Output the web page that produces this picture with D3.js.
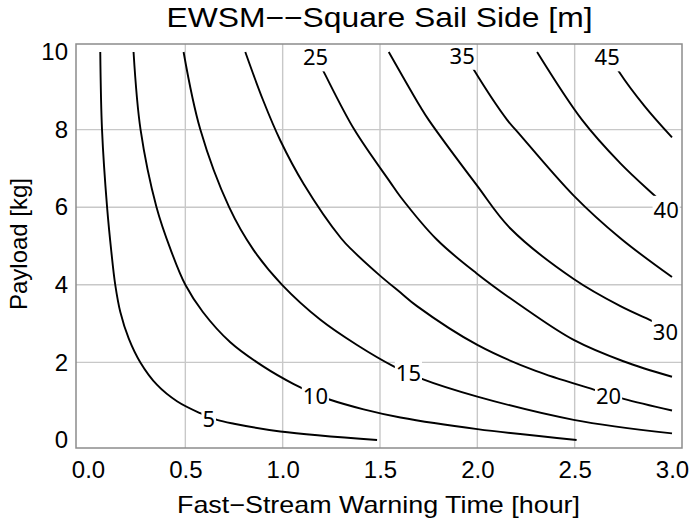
<!DOCTYPE html>
<html>
<head>
<meta charset="utf-8">
<script src="https://cdn.jsdelivr.net/npm/d3@7"></script>
<style>
  body { margin: 0; background: #fff; }
  svg { display: block; }
  .tick text { font-family: "Liberation Sans", Arial, sans-serif; font-size: 24px; fill: #000; }
</style>
</head>
<body>
<svg width="690" height="521"></svg>
<script>
// sail side levels [m]
const levels = [5, 10, 15, 20, 25, 30, 35, 40, 45];

// points: [warning time h, payload kg]
const side5  = [[0.063,10],[0.072,8.0],[0.098,6.0],[0.12,4.85],[0.14,4.0],[0.166,3.3],[0.209,2.62],[0.269,2.0],[0.355,1.42],[0.457,1.0],[0.577,0.69],[0.663,0.52],[0.75,0.42],[0.988,0.22],[1.485,0.0]];
const side10 = [[0.234,10],[0.27,8.0],[0.352,6.0],[0.425,4.9],[0.50,4.0],[0.59,3.3],[0.731,2.52],[0.902,1.89],[1.057,1.44],[1.168,1.18],[1.236,1.05],[1.416,0.79],[1.605,0.58],[2.0,0.28],[2.51,0.0]];
const side15 = [[0.491,10],[0.577,8.0],[0.725,6.0],[0.85,4.9],[0.997,4.0],[1.194,3.1],[1.382,2.45],[1.57,1.9],[1.708,1.59],[2.0,1.12],[2.495,0.52],[3.0,0.17]];
const side20 = [[0.808,10],[0.90,8.75],[0.988,7.72],[1.108,6.6],[1.3,5.2],[1.36,4.88],[1.497,4.25],[1.605,3.8],[1.69,3.45],[2.0,2.45],[2.3,1.78],[2.598,1.3],[2.752,1.06],[3.0,0.76]];
const side25 = [[1.16,10],[1.208,9.52],[1.368,8.0],[1.553,6.64],[1.605,6.27],[1.793,5.16],[1.995,4.30],[2.256,3.35],[2.495,2.58],[2.75,2.03],[3.0,1.63]];
const side30 = [[1.545,10],[1.708,8.58],[1.75,8.25],[1.995,6.58],[2.17,5.45],[2.495,4.15],[2.735,3.45],[2.906,3.05],[3.0,2.82]];
const side35 = [[1.93,10],[1.982,9.54],[2.153,8.25],[2.205,7.95],[2.495,6.3],[2.735,5.2],[3.0,4.2]];
const side40 = [[2.307,10],[2.538,8.25],[2.735,7.13],[2.906,6.32],[3.0,5.9]];
const side45 = [[2.67,10],[2.727,9.5],[2.86,8.6],[3.0,7.8]];
const contours = [side5, side10, side15, side20, side25, side30, side35, side40, side45];

// where each level's label sits: [time, payload]
const labelAt = [[0.62,0.55],[1.168,1.14],[1.646,1.72],[2.674,1.14],[1.169,9.86],[2.966,2.79],[1.922,9.9],[2.97,5.93],[2.667,9.86]];

const xTicks = [0, 0.5, 1, 1.5, 2, 2.5, 3];
const yTicks = [0, 2, 4, 6, 8, 10];
const xGrid = [0.5, 1, 1.5, 2, 2.5];
const yGrid = [2, 4, 6, 8];

const svg = d3.select('svg');

// plot frame sits a little outside the data range
const frame = { left: 76, right: 682, top: 44, bottom: 448 };
const x = d3.scaleLinear().domain([0, 3]).range([88, 672]);
const y = d3.scaleLinear().domain([0, 10]).range([440, 52]);

// grid
svg.append('g').selectAll('line')
    .data(xGrid)
    .join('line')
    .attr('x1', d => x(d)).attr('x2', d => x(d))
    .attr('y1', frame.top).attr('y2', frame.bottom)
    .attr('stroke', '#c8c8c8').attr('stroke-width', 1.4);

svg.append('g').selectAll('line')
    .data(yGrid)
    .join('line')
    .attr('y1', d => y(d)).attr('y2', d => y(d))
    .attr('x1', frame.left).attr('x2', frame.right)
    .attr('stroke', '#c8c8c8').attr('stroke-width', 1.4);

// contour lines
const line = d3.line()
    .x(d => x(d[0]))
    .y(d => y(d[1]))
    .curve(d3.curveCatmullRom.alpha(0.5));

svg.append('g').selectAll('path')
    .data(contours)
    .join('path')
    .attr('d', line)
    .attr('fill', 'none')
    .attr('stroke', '#000')
    .attr('stroke-width', 1.9)
    .attr('stroke-linejoin', 'round');

// contour labels, with a white box that breaks the line
const lab = svg.append('g').selectAll('g')
    .data(levels)
    .join('g')
    .attr('transform', (d, i) => `translate(${x(labelAt[i][0])},${y(labelAt[i][1])})`);

lab.append('text')
    .attr('text-anchor', 'middle')
    .attr('dy', '0.36em')
    .style('font-family', '"Noto Sans", "Open Sans", sans-serif')
    .style('font-size', '22px')
    .text(d => d);

lab.each(function () {
    const g = d3.select(this);
    const b = g.select('text').node().getBBox();
    g.insert('rect', 'text')
        .attr('x', b.x - 1).attr('y', b.y + 2)
        .attr('width', b.width + 2).attr('height', b.height - 2)
        .attr('fill', '#fff');
});

// frame
svg.append('rect')
    .attr('x', frame.left).attr('y', frame.top)
    .attr('width', frame.right - frame.left)
    .attr('height', frame.bottom - frame.top)
    .attr('fill', 'none')
    .attr('stroke', '#8c8c8c')
    .attr('stroke-width', 1.5);

// axes (labels only)
const xAxis = svg.append('g')
    .attr('transform', `translate(0,${frame.bottom})`)
    .call(d3.axisBottom(x).tickValues(xTicks).tickFormat(d3.format('.1f')).tickSize(0).tickPadding(13));
xAxis.select('.domain').remove();

const yAxis = svg.append('g')
    .attr('transform', `translate(${frame.left},0)`)
    .call(d3.axisLeft(y).tickValues(yTicks).tickFormat(d3.format('d')).tickSize(0).tickPadding(8));
yAxis.select('.domain').remove();

// titles
svg.append('text')
    .attr('x', 379.5).attr('y', 27)
    .attr('text-anchor', 'middle')
    .attr('textLength', 426).attr('lengthAdjust', 'spacingAndGlyphs')
    .style('font-family', '"Liberation Sans", Arial, sans-serif')
    .style('font-size', '28px')
    .text('EWSM\u2212\u2212Square Sail Side [m]');

svg.append('text')
    .attr('x', 378.5).attr('y', 513)
    .attr('text-anchor', 'middle')
    .attr('textLength', 403).attr('lengthAdjust', 'spacingAndGlyphs')
    .style('font-family', '"Liberation Sans", Arial, sans-serif')
    .style('font-size', '24px')
    .text('Fast\u2212Stream Warning Time [hour]');

svg.append('text')
    .attr('transform', 'translate(27,244) rotate(-90)')
    .attr('text-anchor', 'middle')
    .style('font-family', '"Liberation Sans", Arial, sans-serif')
    .style('font-size', '24px')
    .text('Payload [kg]');
</script>
</body>
</html>
